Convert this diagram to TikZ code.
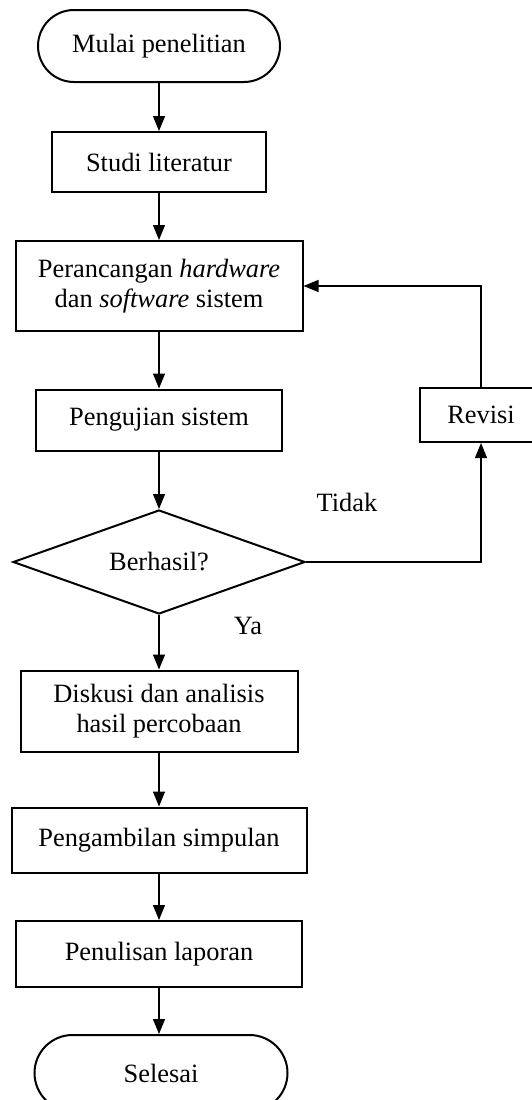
\documentclass[tikz,border=0pt]{standalone}
\usepackage{fontspec}
\setmainfont{Liberation Serif}
\usetikzlibrary{shapes.geometric,arrows.meta}

\tikzset{
  terminal/.style={draw,line width=2pt,rounded corners=36pt,inner sep=0pt,align=center},
  proses/.style={draw,line width=2pt,inner sep=0pt,align=center},
  keputusan/.style={draw,diamond,aspect=2.8,line width=2pt,inner sep=0pt,
    minimum width=292pt,minimum height=104pt},
  panah/.style={-{Triangle[length=15pt,width=12pt]},line width=1.2pt}
}

\begin{document}
\begin{tikzpicture}[x=1pt,y=-1pt,font=\fontsize{26.4}{29.5}\selectfont]
  \useasboundingbox (0,0) rectangle (531,1100);

  % alur utama
  \node[terminal,minimum width=242pt,minimum height=72pt] (mulai) at (159,46) {Mulai penelitian};
  \node[proses,minimum width=214pt,minimum height=60pt] (studi) at (159,162) {Studi literatur};
  \node[proses,minimum width=287pt,minimum height=90pt] (rancang) at (159,286)
    {Perancangan \textit{hardware}\\dan \textit{software} sistem};
  \node[proses,minimum width=246pt,minimum height=61pt] (uji) at (159,420) {Pengujian sistem};
  \node[keputusan] (berhasil) at (159,562) {Berhasil?};
  \node[proses,minimum width=277pt,minimum height=81pt] (diskusi) at (159,711)
    {Diskusi dan analisis\\hasil percobaan};
  \node[proses,minimum width=295pt,minimum height=65pt] (ambil) at (159,840) {Pengambilan simpulan};
  \node[proses,minimum width=286pt,minimum height=66pt] (tulis) at (159,954) {Penulisan laporan};
  \node[terminal,minimum width=253pt,minimum height=76pt,rounded corners=38pt] (selesai) at (161,1073) {Selesai};

  % cabang revisi
  \node[proses,minimum width=122pt,minimum height=54pt] (revisi) at (481,415) {Revisi};
  \node (tidak) at (347,502) {Tidak};
  \node (ya) at (248,626) {Ya};

  \draw[panah] (mulai) -- (studi);
  \draw[panah] (studi) -- (rancang);
  \draw[panah] (rancang) -- (uji);
  \draw[panah] (uji) -- (berhasil);
  \draw[panah] (berhasil) -- (diskusi);
  \draw[panah] (diskusi) -- (ambil);
  \draw[panah] (ambil) -- (tulis);
  \draw[panah] (tulis.south) -- (tulis.south |- selesai.north);
  \draw[panah] (berhasil.east) -| (revisi.south);
  \draw[panah] (revisi.north) |- (rancang.east);
\end{tikzpicture}
\end{document}
